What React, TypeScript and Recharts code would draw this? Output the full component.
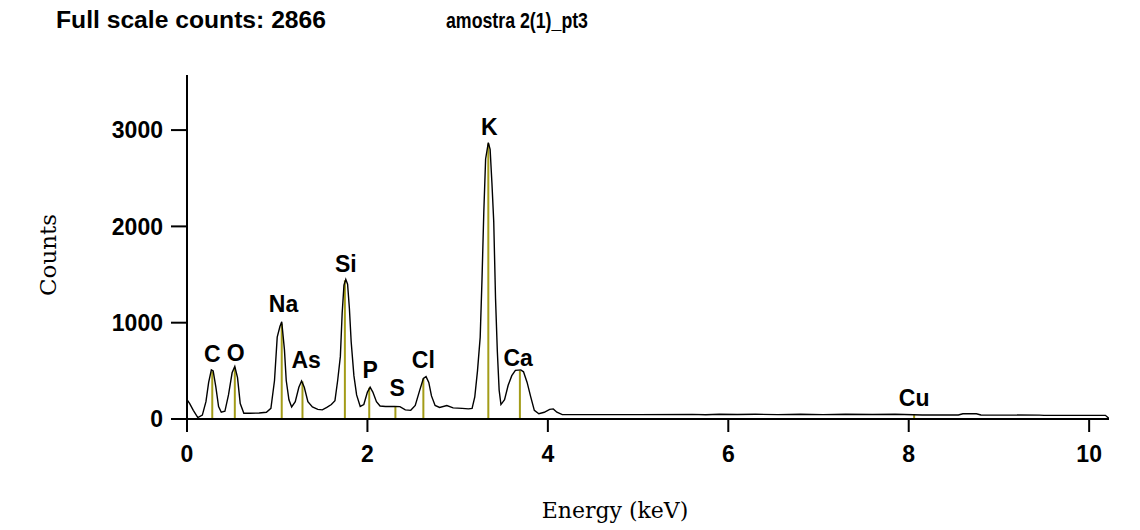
import { ComposedChart, Line, XAxis, YAxis, ReferenceLine, Scatter } from 'recharts';

// spectrum: energy (keV) and counts
const energy = [
  0.0, 0.03, 0.07, 0.12, 0.17, 0.21, 0.24, 0.27, 0.29, 0.32, 0.35, 0.38, 0.42, 0.46, 0.5, 0.53, 0.56, 0.59, 0.63,
  0.7, 0.8, 0.88, 0.93, 0.97, 1.0, 1.03, 1.05, 1.08, 1.1, 1.13, 1.16, 1.2, 1.24, 1.27, 1.3, 1.34, 1.39, 1.45,
  1.5, 1.55, 1.6, 1.64, 1.67, 1.7, 1.72, 1.74, 1.76, 1.78, 1.8, 1.82, 1.85, 1.88, 1.92, 1.96, 2.0, 2.03, 2.06,
  2.1, 2.14, 2.2, 2.3, 2.36, 2.42, 2.48, 2.53, 2.58, 2.62, 2.65, 2.68, 2.71, 2.75, 2.8, 2.88, 2.95, 3.05, 3.12,
  3.16, 3.19, 3.22, 3.25, 3.27, 3.29, 3.31, 3.34, 3.36, 3.38, 3.4, 3.42, 3.44, 3.46, 3.48, 3.52, 3.56, 3.6,
  3.64, 3.7, 3.73, 3.77, 3.81, 3.85, 3.9, 3.96, 4.02, 4.06, 4.1, 4.16, 5.0, 5.6, 5.75, 5.9, 6.1, 6.3, 6.55,
  6.8, 7.05, 7.3, 7.6, 7.85, 8.15, 8.55, 8.6, 8.75, 8.8, 9.45, 9.5, 10.18, 10.22,
];
const counts = [
  200, 160, 90, 15, 40, 180, 380, 510, 500, 330, 130, 70, 80, 250, 480, 545, 430, 160, 60,
  60, 62, 70, 110, 400, 850, 960, 1010, 720, 400, 200, 125, 180, 330, 395, 330, 180, 125, 100,
  95, 120, 150, 190, 400, 650, 1100, 1390, 1450, 1400, 1150, 800, 450, 250, 130, 150, 280, 330, 280,
  180, 135, 130, 130, 128, 95, 90, 140, 300, 420, 440, 380, 240, 140, 120, 140, 115, 110, 105,
  110, 230, 500, 850, 1450, 2150, 2700, 2870, 2800, 2450, 2050, 1250, 700, 300, 150, 200, 350, 450,
  505, 510, 490, 380, 230, 90, 55, 70, 100, 105, 70, 45, 45, 48, 44, 50, 46, 50, 45,
  49, 45, 50, 46, 50, 42, 42, 55, 55, 42, 40, 38, 38, 5,
];

// element markers
const elements = ['C', 'O', 'Na', 'As', 'Si', 'P', 'S', 'Cl', 'K', 'Ca', 'Cu'];
const lineEnergy = [0.28, 0.53, 1.05, 1.28, 1.75, 2.02, 2.31, 2.62, 3.34, 3.69, 8.06];
const lineHeight = [495, 535, 990, 390, 1440, 325, 130, 420, 2860, 500, 45];
const labelEnergy = [0.28, 0.54, 1.07, 1.32, 1.76, 2.03, 2.33, 2.62, 3.35, 3.67, 8.06];
const labelCounts = [592, 600, 1111, 530, 1527, 426, 240, 530, 2950, 550, 135];

const xTicks = [0, 2, 4, 6, 8, 10];
const yTicks = [0, 1000, 2000, 3000];

const spectrum = energy.map((e, i) => ({ e, c: counts[i] }));
const labels = elements.map((name, i) => ({ e: labelEnergy[i], c: labelCounts[i], name }));

const boldFont = '"Liberation Sans", Arial, sans-serif';
const serifFont = '"DejaVu Serif", serif';

const LabelShape = (props: any) => (
  <text
    x={props.cx}
    y={props.cy}
    textAnchor="middle"
    fontFamily={boldFont}
    fontWeight="bold"
    fontSize={23}
    fill="#000"
  >
    {props.payload.name}
  </text>
);

export default function App() {
  return (
    <div style={{ position: 'absolute', left: 0, top: 0, width: 1140, height: 530, background: '#fff' }}>
      <svg width={1140} height={40} style={{ position: 'absolute', left: 0, top: 0 }}>
        <text x={56} y={28} fontFamily={boldFont} fontWeight="bold" fontSize={23} textLength={270} lengthAdjust="spacingAndGlyphs">
          Full scale counts: 2866
        </text>
        <text x={446} y={28} fontFamily={boldFont} fontWeight="bold" fontSize={22} textLength={142} lengthAdjust="spacingAndGlyphs">
          amostra 2(1)_pt3
        </text>
      </svg>
      <div
        style={{
          position: 'absolute',
          left: 48,
          top: 255,
          transform: 'translate(-50%, -50%) rotate(-90deg)',
          fontFamily: serifFont,
          fontSize: 23,
          whiteSpace: 'nowrap',
        }}
      >
        Counts
      </div>
      <div
        style={{
          position: 'absolute',
          left: 615,
          top: 510,
          transform: 'translate(-50%, -50%)',
          fontFamily: serifFont,
          fontSize: 22,
          whiteSpace: 'nowrap',
        }}
      >
        Energy (keV)
      </div>
      <ComposedChart
        width={1140}
        height={530}
        data={spectrum}
        margin={{ top: 75, right: 31, bottom: 51, left: 100 }}
        style={{ position: 'absolute', left: 0, top: 0 }}
      >
        <XAxis
          dataKey="e"
          type="number"
          domain={[0, 10.22]}
          ticks={xTicks}
          allowDataOverflow
          height={60}
          tickSize={13}
          tickMargin={14}
          axisLine={{ stroke: '#000', strokeWidth: 2 }}
          tickLine={{ stroke: '#000', strokeWidth: 2 }}
          tick={{ fontFamily: boldFont, fontWeight: 'bold', fontSize: 23, fill: '#000' }}
        />
        <YAxis
          type="number"
          domain={[0, 3572]}
          ticks={yTicks}
          allowDataOverflow
          width={87}
          tickSize={16}
          tickMargin={8}
          axisLine={{ stroke: '#000', strokeWidth: 2 }}
          tickLine={{ stroke: '#000', strokeWidth: 2 }}
          tick={{ fontFamily: boldFont, fontWeight: 'bold', fontSize: 23, fill: '#000' }}
        />
        {elements.map((name, i) => (
          <ReferenceLine
            key={name}
            segment={[
              { x: lineEnergy[i], y: 0 },
              { x: lineEnergy[i], y: lineHeight[i] },
            ]}
            stroke="#a39c18"
            strokeWidth={2}
          />
        ))}
        <Line
          dataKey="c"
          type="linear"
          stroke="#000"
          strokeWidth={1.4}
          dot={false}
          isAnimationActive={false}
        />
        <Scatter data={labels} dataKey="c" shape={LabelShape} isAnimationActive={false} />
      </ComposedChart>
    </div>
  );
}
